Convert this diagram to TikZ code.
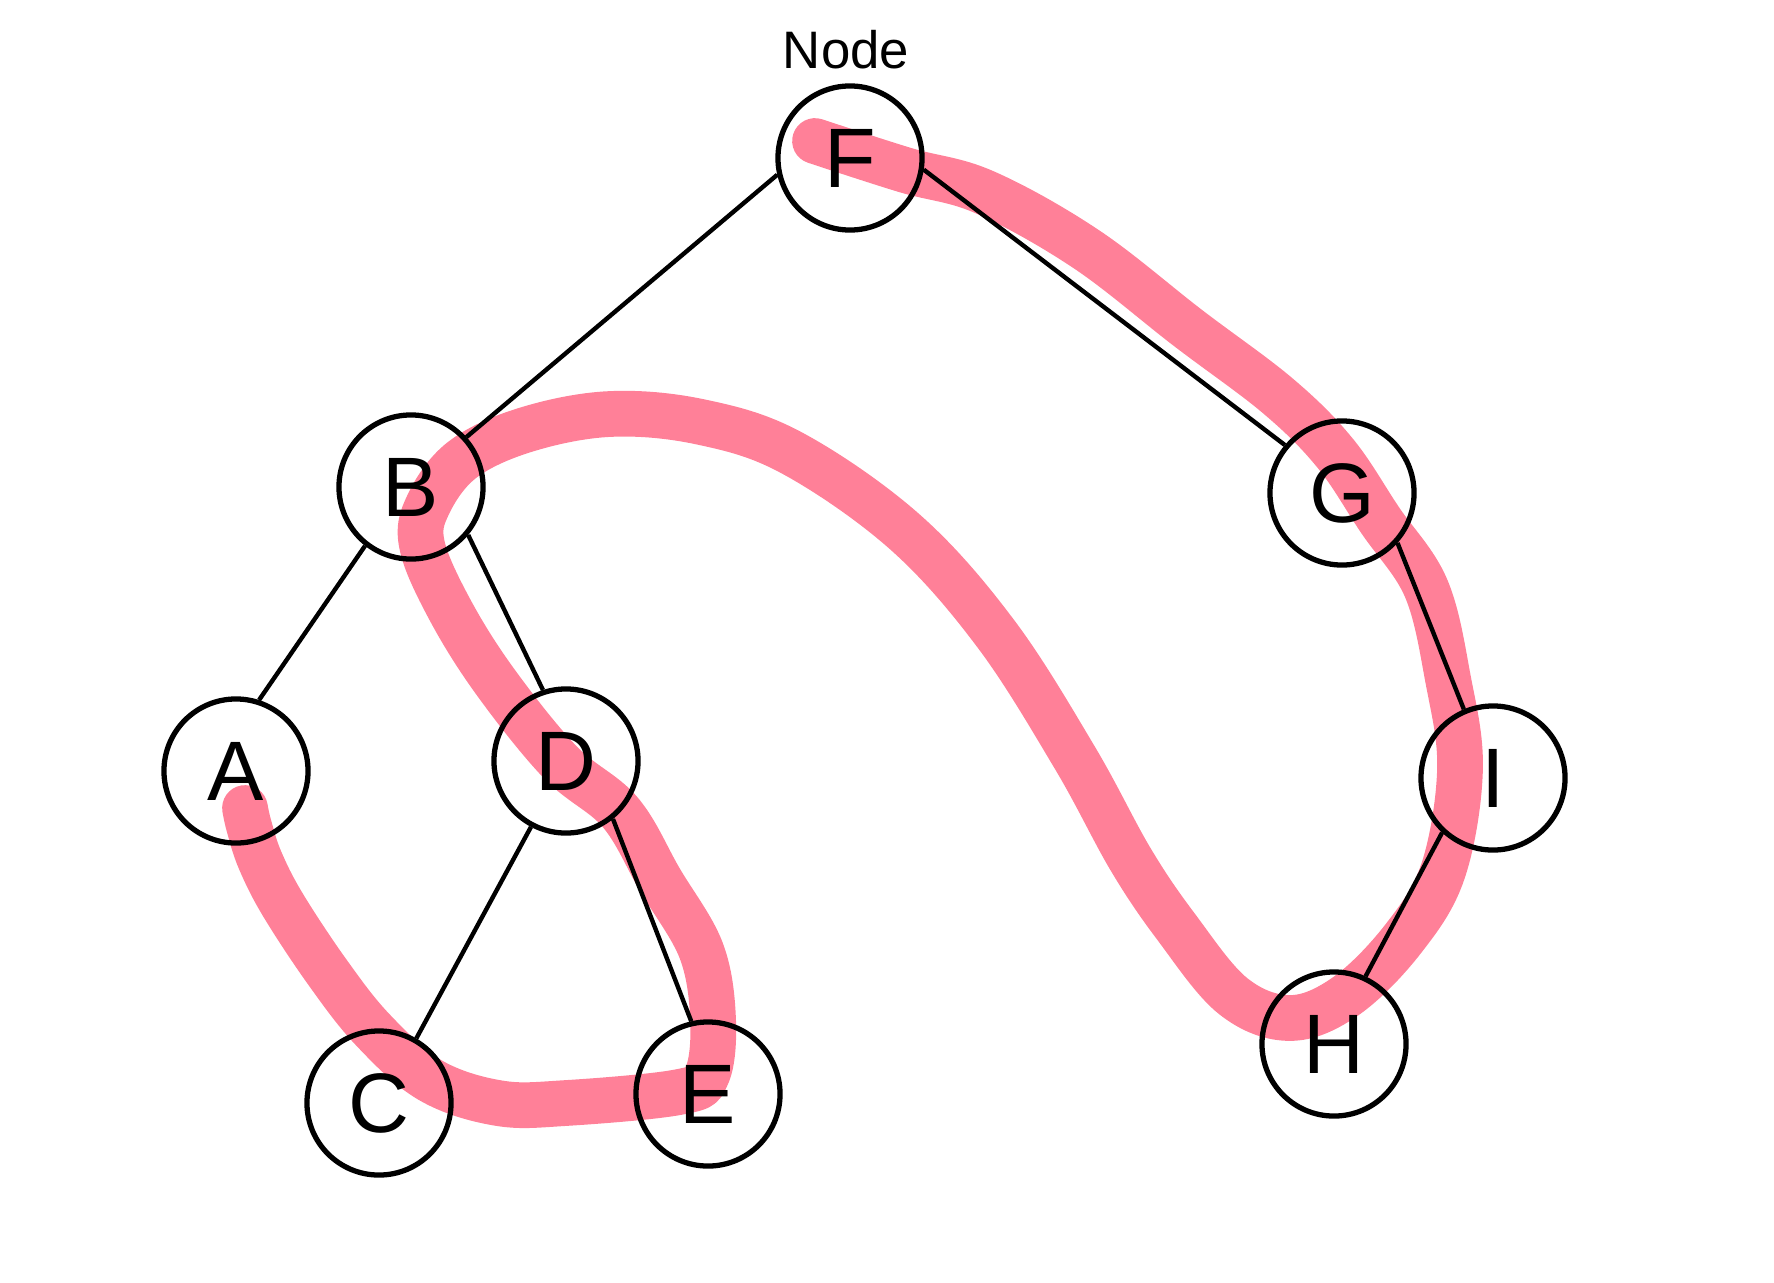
\documentclass[tikz,border=0pt]{standalone}
\usepackage{fontspec}
\setmainfont{Liberation Sans}
\definecolor{walkpink}{RGB}{255,128,152}
\begin{document}
\begin{tikzpicture}[x=0.01cm, y=-0.01cm,
  vertex/.style={circle, draw=black, line width=1.5pt, minimum size=1.44cm,
    inner sep=0pt, font=\fontsize{24}{28}\selectfont},
  edge/.style={draw=black, line width=1.25pt},
  walk/.style={draw=walkpink, line width=13pt, line cap=round, line join=round}]

  \useasboundingbox (0,0) rectangle (1774,1282);

  % Traversal path drawn first, under the tree
  \draw[walk] plot[smooth, tension=0.6] coordinates {
    (815,141) (905,170) (984,192) (1086,249) (1188,328) (1278,396)
    (1335,453) (1380,520) (1426,588) (1448,679) (1460,769) (1443,871)
    (1403,939) (1346,996) (1290,1018) (1233,996) (1177,928) (1131,860)
    (1075,758) (996,634) (905,532) (792,453) (701,422) (610,414)
    (525,430) (462,460) (428,505) (422,545) (449,608) (494,680)
    (560,762) (620,812) (660,880) (701,950) (713,1018) (707,1075)
    (679,1092) (566,1103) (498,1103) (430,1080) (373,1030) (328,973)
    (283,905) (260,860) (249,826) (245,808)};

  % Tree nodes
  \foreach \name/\x/\y in {F/850/158, B/411/487, G/1342/493, A/236/771,
      D/566/761, I/1493/778, C/379/1103, E/708/1094, H/1334/1044}{
    \node[vertex] (\name) at (\x,\y) {\name};
  }

  % Label above the root
  \node[font=\fontsize{15}{18}\selectfont] (rootlabel) at (846,50) {Node};

  % Tree edges (hand drawn, so not aimed at the centres)
  \draw[edge] (F.193) -- (B.42);
  \draw[edge] (F.-9) -- (G.140);
  \draw[edge] (B.232) -- (A.72);
  \draw[edge] (B.-40) -- (D.108);
  \draw[edge] (D.242) -- (C.60);
  \draw[edge] (D.-51) -- (E.103);
  \draw[edge] (G.-42) -- (I.113);
  \draw[edge] (I.227) -- (H.65);

\end{tikzpicture}
\end{document}
